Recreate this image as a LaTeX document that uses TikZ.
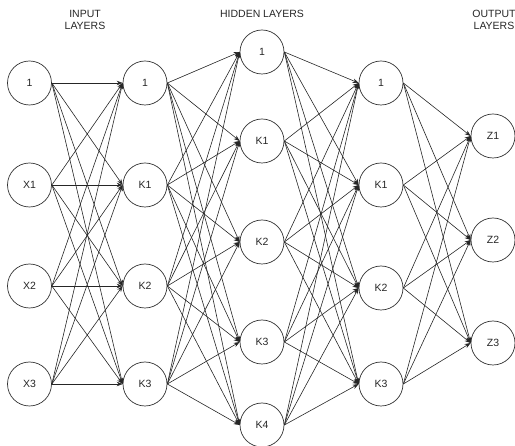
\documentclass[tikz,border=0pt]{standalone}
\usepackage{fontspec}
\setmainfont{Liberation Sans}
\usetikzlibrary{arrows.meta}
\begin{document}
\begin{tikzpicture}[x=1pt,y=-1pt,
  neuron/.style={circle,draw=black!80,line width=0.7pt,minimum size=44pt,inner sep=0pt,font=\fontsize{10.5}{12}\selectfont,text=black!85},
  lbl/.style={align=center,font=\fontsize{10.5}{12}\selectfont,text=black!85},
  conn/.style={draw=black!85,line width=0.6pt,-{Stealth[length=6pt,width=4.5pt]}}]
\useasboundingbox (0,0) rectangle (515,446);
% column 1
\node[neuron] (a1) at (29.5,83) {1};
\node[neuron] (a2) at (29.5,185) {X1};
\node[neuron] (a3) at (29.5,286) {X2};
\node[neuron] (a4) at (29.5,384) {X3};
% column 2
\node[neuron] (b1) at (145,83) {1};
\node[neuron] (b2) at (145,185) {K1};
\node[neuron] (b3) at (145,286) {K2};
\node[neuron] (b4) at (145,384) {K3};
% column 3
\node[neuron] (c1) at (262,52) {1};
\node[neuron] (c2) at (262,141) {K1};
\node[neuron] (c3) at (262,242) {K2};
\node[neuron] (c4) at (262,342) {K3};
\node[neuron] (c5) at (262,425) {K4};
% column 4
\node[neuron] (d1) at (381,83) {1};
\node[neuron] (d2) at (381,185) {K1};
\node[neuron] (d3) at (381,288) {K2};
\node[neuron] (d4) at (381,384) {K3};
% column 5
\node[neuron] (e1) at (493,136) {Z1};
\node[neuron] (e2) at (493,240) {Z2};
\node[neuron] (e3) at (493,343) {Z3};
% labels
\node[lbl] (l1) at (85,20) {INPUT\\LAYERS};
\node[lbl] (l2) at (262,14) {HIDDEN LAYERS};
\node[lbl] (l3) at (494,20) {OUTPUT\\LAYERS};
% connections
\foreach \s in {1,...,4}{\foreach \t in {1,...,4}{\draw[conn] (a\s.east) -- (b\t.west);}}
\foreach \s in {1,...,4}{\foreach \t in {1,...,5}{\draw[conn] (b\s.east) -- (c\t.west);}}
\foreach \s in {1,...,5}{\foreach \t in {1,...,4}{\draw[conn] (c\s.east) -- (d\t.west);}}
\foreach \s in {1,...,4}{\foreach \t in {1,...,3}{\draw[conn] (d\s.east) -- (e\t.west);}}
\end{tikzpicture}
\end{document}
